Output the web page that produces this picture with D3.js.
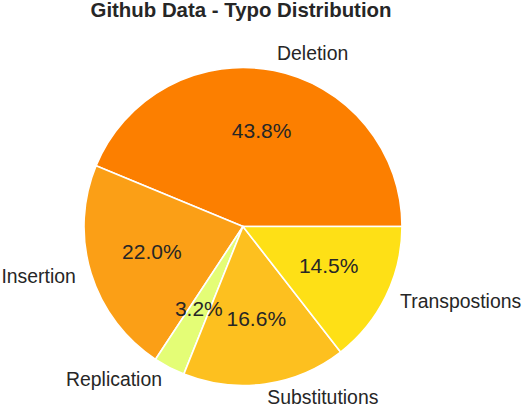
<!DOCTYPE html>
<html>
<head>
<meta charset="utf-8">
<script src="https://cdn.jsdelivr.net/npm/d3@7"></script>
<style>
  html, body { margin: 0; padding: 0; background: #fff; }
  svg { display: block; }
</style>
</head>
<body>
<script>
const categories = ["Deletion", "Insertion", "Replication", "Substitutions", "Transpostions"];
const values = [43.8, 22.0, 3.2, 16.6, 14.5];
const colors = ["#fc7f00", "#fb9f16", "#e4fd76", "#fdc01f", "#fee016"];
const title = "Github Data - Typo Distribution";

const W = 524, H = 406;
const cx = 243, cy = 226.5, R = 159;
const textColor = "#262626";
const font = "'Liberation Sans', Arial, Helvetica, sans-serif";

const svg = d3.select("body").append("svg").attr("width", W).attr("height", H);

const data = categories.map((c, i) => ({ name: c, value: values[i], color: colors[i] }));
const total = d3.sum(values);

// matplotlib style: start at 3 o'clock, counterclockwise.
const pie = d3.pie().value(d => d.value).sort(null)
  .startAngle(Math.PI / 2).endAngle(Math.PI / 2 - 2 * Math.PI);
const arcs = pie(data);
const arc = d3.arc().innerRadius(0).outerRadius(R);

const g = svg.append("g").attr("transform", `translate(${cx},${cy})`);
g.selectAll("path.slice").data(arcs).enter().append("path")
  .attr("class", "slice")
  .attr("d", arc)
  .attr("fill", d => d.data.color)
  .attr("stroke", "#ffffff")
  .attr("stroke-width", 1.6)
  .attr("stroke-linejoin", "round");

function mid(d) { return (d.startAngle + d.endAngle) / 2; }

// category labels at 1.1 R
g.selectAll("text.lab").data(arcs).enter().append("text")
  .attr("class", "lab")
  .attr("x", d => 1.1 * R * Math.sin(mid(d)))
  .attr("y", d => -1.1 * R * Math.cos(mid(d)))
  .attr("dy", "0.24em")
  .attr("text-anchor", d => Math.sin(mid(d)) > 0 ? "start" : "end")
  .attr("font-family", font)
  .attr("font-size", "19.4px")
  .attr("fill", textColor)
  .text(d => d.data.name);

// percentage labels at 0.6 R
g.selectAll("text.pct").data(arcs).enter().append("text")
  .attr("class", "pct")
  .attr("x", d => 0.6 * R * Math.sin(mid(d)))
  .attr("y", d => -0.6 * R * Math.cos(mid(d)))
  .attr("dy", "0.23em")
  .attr("text-anchor", "middle")
  .attr("font-family", font)
  .attr("font-size", "21px")
  .attr("fill", textColor)
  .text(d => (d.data.value / total * 100).toFixed(1) + "%");

svg.append("text")
  .attr("x", 241)
  .attr("y", 16.5)
  .attr("text-anchor", "middle")
  .attr("font-family", font)
  .attr("font-weight", "bold")
  .attr("font-size", "20.4px")
  .attr("fill", textColor)
  .text(title);
</script>
</body>
</html>
